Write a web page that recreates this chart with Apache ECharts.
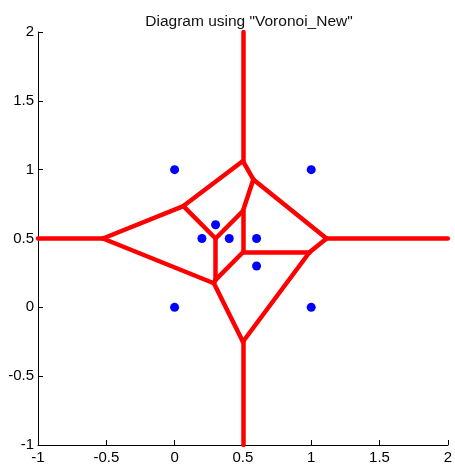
<!DOCTYPE html>
<html>
<head>
<meta charset="utf-8">
<script src="https://cdn.jsdelivr.net/npm/echarts@6/dist/echarts.min.js"></script>
<style>
html,body{margin:0;padding:0;background:#fff;}
#chart{width:455px;height:465px;}
</style>
</head>
<body>
<div id="chart"></div>
<script>
// Sites (blue points)
const siteX = [0, 1, 0.3, 0.2, 0.4, 0.6, 0.6, 0, 1];
const siteY = [1, 1, 0.6, 0.5, 0.5, 0.5, 0.3, 0, 0];
// Voronoi vertices (including where infinite edges meet the axis limits)
const vertexX = [0.5, 0.5763, 0.0643, -0.525, 0.3, 0.5, 0.5, 0.9875, 0.3, 0.2875, 0.5, 1.1125, 0.5, -1, 2, 0.5];
const vertexY = [1.0625, 0.9289, 0.7357, 0.5, 0.5, 0.7, 0.4, 0.4, 0.2, 0.175, -0.25, 0.5, 2, 0.5, 0.5, -1];
// Edges as vertex index pairs
const edgeFrom = [0, 0, 0, 2, 2, 3, 3, 4, 4, 5, 5, 6, 6, 7, 7, 1, 11, 8, 9, 10];
const edgeTo   = [12, 1, 2, 3, 4, 13, 9, 5, 8, 1, 6, 7, 8, 11, 10, 11, 14, 9, 10, 15];
// Tick labels
const ticks = ['-1', '-0.5', '0', '0.5', '1', '1.5', '2'];

const edges = edgeFrom.map((f, i) => ({
  coords: [[vertexX[f], vertexY[f]], [vertexX[edgeTo[i]], vertexY[edgeTo[i]]]]
}));
const sites = siteX.map((x, i) => [x, siteY[i]]);

const fontFamily = '"Liberation Sans", Arial, sans-serif';
const axisCommon = {
  type: 'value', min: -1, max: 2, interval: 0.5,
  axisLine: { show: true, onZero: false, lineStyle: { color: '#000', width: 1 } },
  axisTick: { show: true, inside: true, length: 5, lineStyle: { color: '#000' } },
  splitLine: { show: false },
  axisLabel: {
    color: '#000', fontSize: 15, fontFamily: fontFamily,
    formatter: v => ticks[Math.round((v + 1) / 0.5)]
  }
};

const chart = echarts.init(document.getElementById('chart'), null, { renderer: 'canvas' });
chart.setOption({
  animation: false,
  backgroundColor: '#fff',
  title: {
    text: 'Diagram using "Voronoi_New"',
    left: 244, top: 9, textAlign: 'center',
    textStyle: { fontSize: 15.5, fontWeight: 'normal', color: '#111', fontFamily: fontFamily }
  },
  grid: { left: 38, right: 5, top: 32, bottom: 20, containLabel: false },
  xAxis: Object.assign({}, axisCommon, { axisLabel: Object.assign({}, axisCommon.axisLabel, { margin: 5 }) }),
  yAxis: Object.assign({}, axisCommon, { axisLabel: Object.assign({}, axisCommon.axisLabel, { margin: 4 }) }),
  series: [
    {
      type: 'lines', coordinateSystem: 'cartesian2d', clip: true,
      polyline: false,
      lineStyle: { color: '#ff0000', width: 4.5, opacity: 1, cap: 'round', curveness: 0 },
      data: edges, z: 2
    },
    {
      type: 'scatter', data: sites, symbol: 'circle', symbolSize: 9,
      itemStyle: { color: '#0000ff', opacity: 1 }, z: 3
    }
  ]
});
</script>
</body>
</html>
